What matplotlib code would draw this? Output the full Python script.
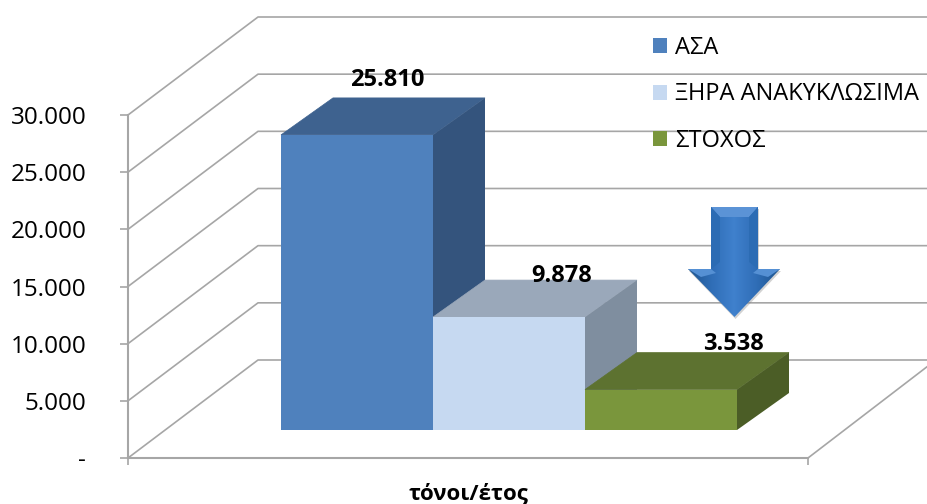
import numpy as np
import matplotlib
matplotlib.use("Agg")
import matplotlib.pyplot as plt
from matplotlib.colors import LinearSegmentedColormap
from matplotlib.patches import Polygon
from matplotlib.transforms import Affine2D

plt.rcParams['font.family'] = ['Open Sans', 'DejaVu Sans']

# Data
categories = ["ΑΣΑ", "ΞΗΡΑ ΑΝΑΚΥΚΛΩΣΙΜΑ", "ΣΤΟΧΟΣ"]
values = [25810, 9878, 3538]
y_ticks = [0, 5000, 10000, 15000, 20000, 25000, 30000]
x_title = "τόνοι/έτος"

front_colors = ["#4f81bd", "#c6d9f1", "#7a963c"]
top_colors = ["#3e628f", "#9aa8ba", "#5d7230"]
side_colors = ["#34547d", "#7f8e9f", "#4b5d26"]

W, H = 928, 504
GRID = "#a6a6a6"


def fmt(v):
    return "-" if v == 0 else f"{v:,}".replace(",", ".")


fig = plt.figure(figsize=(W / 100, H / 100), dpi=100)
ax = fig.add_axes([128 / W, 1 - 458 / H, 680 / W, 343 / H])

# one x unit = one bar width (152 px)
px_x = 1 / 152
px_y = 30000 / 343
ax.set_xlim(-153 * px_x, 527 * px_x)
ax.set_ylim(0, 30000)

# back wall and floor
wall_dx, wall_dy = 130 * px_x, 98 * px_y
x0, x1 = ax.get_xlim()
right_edge = x0 + (W - 128) * px_x
for t in y_ticks:
    ax.plot([x0, x0 + wall_dx, right_edge], [t, t + wall_dy, t + wall_dy],
            color=GRID, lw=1.2, clip_on=False, zorder=1)
ax.plot([x1, x1 + 120 * px_x], [0, 92 * px_y], color=GRID, lw=1.2, clip_on=False, zorder=1)

# 3d bars
base = 28 * px_y
depth_x, depth_y = 52 * px_x, 37 * px_y
xs = np.arange(len(values))
bars = ax.bar(xs, values, width=1, bottom=base, align="edge", color=front_colors, zorder=4, label="_")
for i, v in enumerate(values):
    top = v + base
    # later bars sit in front of earlier ones
    z = 3 + i * 0.1
    ax.add_patch(Polygon([(i, top), (i + depth_x, top + depth_y), (i + 1 + depth_x, top + depth_y), (i + 1, top)],
                         closed=True, fc=top_colors[i], ec=top_colors[i], lw=0.5, zorder=z, clip_on=False))
    ax.add_patch(Polygon([(i + 1, base), (i + 1 + depth_x, base + depth_y), (i + 1 + depth_x, top + depth_y), (i + 1, top)],
                         closed=True, fc=side_colors[i], ec="none", zorder=z, clip_on=False))
    bars[i].set_zorder(z + 0.05)

# value labels, nudged by hand like in the original
label_off = [(106, 18), (129, 4), (148, 9)]
for i, v in enumerate(values):
    ax.annotate(fmt(v), xy=(i, v + base), xytext=(label_off[i][0] * 0.72, (37 + label_off[i][1]) * 0.72),
                textcoords="offset points", ha="center", va="center",
                fontsize=17, fontweight="bold", color="black", zorder=8, annotation_clip=False)

# axes
for s in ["top", "right"]:
    ax.spines[s].set_visible(False)
for s in ["left", "bottom"]:
    ax.spines[s].set_color(GRID)
    ax.spines[s].set_linewidth(1.5)
ax.patch.set_alpha(0)
ax.set_yticks(y_ticks)
ax.set_yticklabels([fmt(t) for t in y_ticks], fontsize=17.5, color="black")
ax.tick_params(axis="y", length=6, width=1.2, color=GRID, pad=24)
ax.set_xticks([x0, x1])
ax.set_xticklabels(["", ""])
ax.tick_params(axis="x", length=5, width=1.2, color=GRID)
ax.set_xlabel(x_title, fontsize=16, fontweight="bold", labelpad=10, color="black")

# legend
handles = [plt.Rectangle((0, 0), 1, 1, fc=c, ec="none") for c in front_colors]
leg = ax.legend(handles, categories, loc="upper left", bbox_to_anchor=(653 / W, 1 - 36 / H),
                bbox_transform=fig.transFigure, frameon=False, fontsize=17, ncol=1,
                handlelength=0.6, handleheight=0.6, handletextpad=0.34, labelspacing=0.95,
                borderpad=0, borderaxespad=0)
leg.set_zorder(9)

# decorative arrow, drawn in picture pixels
ov = fig.add_axes([0, 0, 1, 1], zorder=5)
ov.axis("off")
outline = [(711, 207), (758, 207), (758, 269), (780, 269), (734.5, 317), (688, 269), (711, 269)]
shadow = Polygon(outline, closed=True, fc="#808080", ec="none", alpha=0.35, zorder=1,
                 transform=Affine2D().translate(1, 2) + ov.transData)
ov.add_patch(shadow)
grad = np.abs(np.linspace(0, 1, 80) - 0.5)[None, :] * 2
im = ov.imshow(grad, extent=(688, 780, 317, 207), aspect="auto", zorder=2,
               cmap=LinearSegmentedColormap.from_list("arrow", ["#3f80cc", "#2f6db6", "#1f558f"]))
ov.set_xlim(0, W)
ov.set_ylim(H, 0)
body = Polygon(outline, closed=True, fc="none", ec="none")
ov.add_patch(body)
im.set_clip_path(body)
ov.add_patch(Polygon([(711, 207), (758, 207), (749, 217), (720, 217)], closed=True, fc="#5b93d6", ec="none", zorder=3))
ov.add_patch(Polygon([(711, 207), (720, 217), (720, 262), (711, 269)], closed=True, fc="#2c6cb4", ec="none", zorder=3))
ov.add_patch(Polygon([(758, 207), (749, 217), (749, 262), (758, 269)], closed=True, fc="#2c6cb4", ec="none", zorder=3))
ov.add_patch(Polygon([(688, 269), (711, 269), (716, 273), (701, 277)], closed=True, fc="#5590d4", ec="none", zorder=3))
ov.add_patch(Polygon([(780, 269), (758, 269), (753, 273), (768, 277)], closed=True, fc="#5590d4", ec="none", zorder=3))

fig.savefig("out.png", dpi=100)
